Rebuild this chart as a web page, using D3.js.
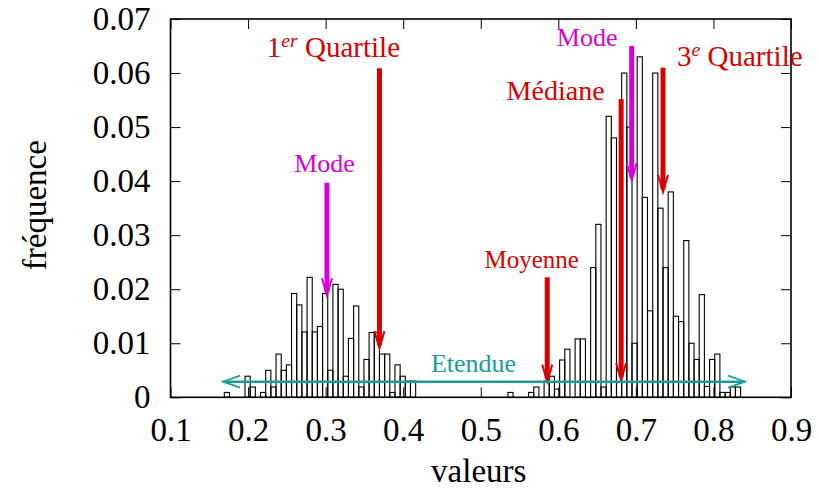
<!DOCTYPE html>
<html>
<head>
<meta charset="utf-8">
<script src="https://cdn.jsdelivr.net/npm/d3@7"></script>
<style>
  body { margin: 0; background: #fff; }
  svg text { font-family: "Liberation Serif", "DejaVu Serif", serif; }
</style>
</head>
<body>
<svg id="chart" width="819" height="488"></svg>
<script>
//DATA
var binWidth = 1 / 150;

//left cluster (starts at 0.1694)
var leftStart = 0.1694;
var leftFreq = [0.0009, 0, 0, 0, 0.0039, 0.0019, 0, 0.0009, 0.005, 0.0019,
  0.008, 0.005, 0.006, 0.0192, 0.0171, 0.0121, 0.0222, 0.0121, 0.0131, 0.0192,
  0.005, 0.0209, 0.020, 0.0039, 0.0109, 0.0169, 0.0019, 0.007, 0.012, 0.012,
  0.008, 0.008, 0.0009, 0.006, 0.0039, 0.003, 0.003];

//right cluster (starts at 0.535)
var rightStart = 0.535;
var rightFreq = [0.0009, 0, 0, 0, 0.0009, 0.0019, 0, 0.003, 0.0039, 0.0015,
  0.0069, 0.0089, 0, 0.0108, 0.0108, 0, 0.024, 0.032, 0.0019, 0.052,
  0.048, 0.005, 0.060, 0.050, 0.010, 0.063, 0.037, 0.016, 0.060, 0.035,
  0.024, 0.038, 0.015, 0.014, 0.029, 0.010, 0.007, 0.019, 0.002, 0.007,
  0.008, 0.0009, 0.0009, 0.0019, 0.0019];

var xTicks = [0.1, 0.2, 0.3, 0.4, 0.5, 0.6, 0.7, 0.8, 0.9];
var xTickLabels = ["0.1", "0.2", "0.3", "0.4", "0.5", "0.6", "0.7", "0.8", "0.9"];
var yTicks = [0, 0.01, 0.02, 0.03, 0.04, 0.05, 0.06, 0.07];
var yTickLabels = ["0", "0.01", "0.02", "0.03", "0.04", "0.05", "0.06", "0.07"];

//vertical marker arrows: x, from y, to y
var markers = [
  {name: "mode1", x: 0.3017, y0: 0.0397, y1: 0.0189, color: "magenta"},
  {name: "q1", x: 0.3694, y0: 0.0609, y1: 0.0091, color: "red"},
  {name: "moyenne", x: 0.5857, y0: 0.0222, y1: 0.0029, color: "red"},
  {name: "mediane", x: 0.681, y0: 0.0552, y1: 0.0032, color: "red"},
  {name: "mode2", x: 0.6946, y0: 0.0650, y1: 0.0402, color: "magenta"},
  {name: "q3", x: 0.735, y0: 0.0610, y1: 0.0380, color: "red"}
];

//range arrow
var etendue = {x0: 0.1677, x1: 0.8408, y: 0.0029};

//text labels: text, superscript, x, y (baseline)
var labels = [
  {text: "1", sup: "er", rest: " Quartile", x: 0.3101, y: 0.0630, color: "red", size: 29},
  {text: "Mode", sup: "", rest: "", x: 0.2985, y: 0.0417, color: "magenta", size: 26},
  {text: "Moyenne", sup: "", rest: "", x: 0.5656, y: 0.0240, color: "red", size: 25},
  {text: "Médiane", sup: "", rest: "", x: 0.5965, y: 0.0550, color: "red", size: 28},
  {text: "Mode", sup: "", rest: "", x: 0.6372, y: 0.0650, color: "magenta", size: 26},
  {text: "3", sup: "e", rest: " Quartile", x: 0.8340, y: 0.0613, color: "red", size: 29},
  {text: "Etendue", sup: "", rest: "", x: 0.4907, y: 0.00468, color: "teal", size: 26}
];

var colors = {red: "#d80000", magenta: "#d800d8", teal: "#1a9c9c"};

//SCALES
var svg = d3.select("#chart");
var x = d3.scaleLinear().domain([0.1, 0.9]).range([170.5, 791]);
var y = d3.scaleLinear().domain([0, 0.07]).range([397.3, 19]);

//HISTOGRAM
function binsFrom(start, freq){
  return freq.map((f, i) => ({lo: start + i * binWidth, hi: start + (i + 1) * binWidth, f: f}))
    .filter(d => d.f > 0);
}
var bins = binsFrom(leftStart, leftFreq).concat(binsFrom(rightStart, rightFreq));

svg.append("g").selectAll("rect").data(bins).join("rect")
  .attr("x", d => x(d.lo))
  .attr("y", d => y(d.f))
  .attr("width", d => x(d.hi) - x(d.lo))
  .attr("height", d => y(0) - y(d.f))
  .style("fill", "none")
  .style("stroke", "#000")
  .style("stroke-width", 1.1);

//AXES (ticks pointing inward, mirrored)
var fs = 33;
svg.append("g").attr("transform", "translate(0," + y(0) + ")")
  .call(d3.axisBottom(x).tickValues(xTicks).tickFormat((d, i) => xTickLabels[i])
    .tickSizeInner(-10).tickSizeOuter(0).tickPadding(20))
  .call(g => g.select(".domain").remove())
  .call(g => g.selectAll("text").style("font-size", fs + "px").style("font-family", null).attr("fill", "#000"));

svg.append("g").attr("transform", "translate(0," + y(0.07) + ")")
  .call(d3.axisTop(x).tickValues(xTicks).tickFormat("").tickSizeInner(-10).tickSizeOuter(0))
  .call(g => g.select(".domain").remove());

svg.append("g").attr("transform", "translate(" + x(0.1) + ",0)")
  .call(d3.axisLeft(y).tickValues(yTicks).tickFormat((d, i) => yTickLabels[i])
    .tickSizeInner(-10).tickSizeOuter(0).tickPadding(20))
  .call(g => g.select(".domain").remove())
  .call(g => g.selectAll("text").style("font-size", fs + "px").style("font-family", null).attr("fill", "#000"));

svg.append("g").attr("transform", "translate(" + x(0.9) + ",0)")
  .call(d3.axisRight(y).tickValues(yTicks).tickFormat("").tickSizeInner(-10).tickSizeOuter(0))
  .call(g => g.select(".domain").remove());

//frame
svg.append("rect")
  .attr("x", x(0.1)).attr("y", y(0.07))
  .attr("width", x(0.9) - x(0.1)).attr("height", y(0) - y(0.07))
  .style("fill", "none").style("stroke", "#000").style("stroke-width", 1.6);

//axis titles
svg.append("text")
  .attr("x", (x(0.1) + x(0.9)) / 2 - 2).attr("y", 482)
  .attr("text-anchor", "middle").style("font-size", "33px")
  .text("valeurs");

svg.append("text")
  .attr("transform", "translate(46," + ((y(0) + y(0.07)) / 2 - 3) + ") rotate(-90)")
  .attr("text-anchor", "middle").style("font-size", "33px")
  .text("fréquence");

//MARKER ARROWS
var arrowG = svg.append("g");
markers.forEach(function(m){
  let c = colors[m.color];
  let px = x(m.x), top = y(m.y0), tip = y(m.y1);
  arrowG.append("line")
    .attr("x1", px).attr("y1", top).attr("x2", px).attr("y2", tip - 3)
    .style("stroke", c).style("stroke-width", 5);
  arrowG.append("path")
    .attr("d", "M" + (px - 5) + "," + (tip - 17) + "L" + px + "," + tip + "L" + (px + 5) + "," + (tip - 17))
    .style("fill", "none").style("stroke", c).style("stroke-width", 2);
});

//range arrow (both ends)
var ey = y(etendue.y), ex0 = x(etendue.x0), ex1 = x(etendue.x1);
arrowG.append("line")
  .attr("x1", ex0).attr("y1", ey).attr("x2", ex1).attr("y2", ey)
  .style("stroke", colors.teal).style("stroke-width", 2.5);
arrowG.append("path")
  .attr("d", "M" + (ex0 + 17) + "," + (ey - 6) + "L" + ex0 + "," + ey + "L" + (ex0 + 17) + "," + (ey + 6)
    + "M" + (ex1 - 17) + "," + (ey - 6) + "L" + ex1 + "," + ey + "L" + (ex1 - 17) + "," + (ey + 6))
  .style("fill", "none").style("stroke", colors.teal).style("stroke-width", 1.6);

//LABELS
labels.forEach(function(l){
  let t = svg.append("text")
    .attr("x", x(l.x)).attr("y", y(l.y))
    .attr("text-anchor", "middle")
    .style("font-size", l.size + "px")
    .style("fill", colors[l.color]);
  t.append("tspan").text(l.text);
  if(l.sup){
    t.append("tspan").attr("dy", -10).style("font-size", (l.size * 0.68) + "px").style("font-style", "italic").text(l.sup);
    t.append("tspan").attr("dy", 10).text(l.rest);
  }
});
</script>
</body>
</html>
